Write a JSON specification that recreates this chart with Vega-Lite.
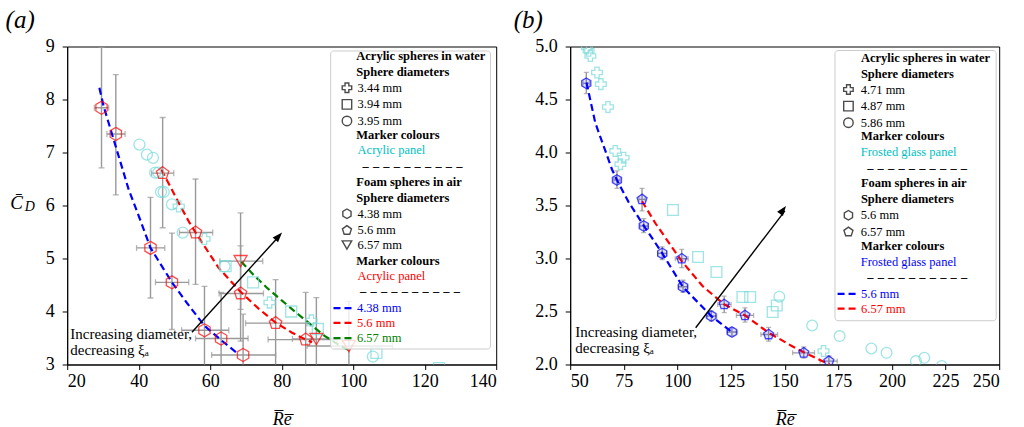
{
"$schema": "https://vega.github.io/schema/vega-lite/v6.json",
"padding": {"left": 4.2, "top": 7.5, "right": 5, "bottom": 0},
"bounds": "flush",
"spacing": 74,
"config": {
  "font": "Liberation Serif",
  "view": {"stroke": "#000", "strokeWidth": 1},
  "axis": {"grid": false, "domainColor": "#000", "tickColor": "#000", "labelColor": "#000", "titleColor": "#000", "labelFont": "Liberation Serif", "labelFontSize": 18, "titleFont": "Liberation Serif", "titleFontSize": 18, "titleFontStyle": "italic", "titleFontWeight": "normal", "tickSize": 5, "domainWidth": 1, "tickWidth": 1},
  "legend": {"orient": "none", "labelFont": "Liberation Serif", "labelFontSize": 12.5, "titleFont": "Liberation Serif", "titleFontSize": 12.5, "titleFontWeight": "bold", "titleColor": "#000", "labelColor": "#000", "rowPadding": 0.6, "titlePadding": 3, "titleLineHeight": 16, "padding": 0, "symbolSize": 90, "symbolStrokeWidth": 1.4, "labelOffset": 4.4, "titleLimit": 400, "labelLimit": 400}
},
"datasets": {
  "a_foam": [
    {"d": "4.38 mm", "panel": "Acrylic panel", "Re": 29.6, "Cd": 7.845, "Re_lo": 27.6, "Re_hi": 31.6, "Cd_lo": 6.71, "Cd_hi": 8.985},
    {"d": "4.38 mm", "panel": "Acrylic panel", "Re": 33.6, "Cd": 7.35, "Re_lo": 31.1, "Re_hi": 36.2, "Cd_lo": 6.2, "Cd_hi": 8.47},
    {"d": "4.38 mm", "panel": "Acrylic panel", "Re": 43.3, "Cd": 5.2, "Re_lo": 39.4, "Re_hi": 47.3, "Cd_lo": 4.255, "Cd_hi": 6.155},
    {"d": "4.38 mm", "panel": "Acrylic panel", "Re": 49.3, "Cd": 4.55, "Re_lo": 44.7, "Re_hi": 54.0, "Cd_lo": 3.66, "Cd_hi": 5.48},
    {"d": "4.38 mm", "panel": "Acrylic panel", "Re": 58.4, "Cd": 3.645, "Re_lo": 52.0, "Re_hi": 65.2, "Cd_lo": 2.8, "Cd_hi": 4.475},
    {"d": "4.38 mm", "panel": "Acrylic panel", "Re": 63.05, "Cd": 3.49, "Re_lo": 55.9, "Re_hi": 70.6, "Cd_lo": 2.6, "Cd_hi": 4.36},
    {"d": "4.38 mm", "panel": "Acrylic panel", "Re": 69.2, "Cd": 3.18, "Re_lo": 60.4, "Re_hi": 78.3, "Cd_lo": 2.4, "Cd_hi": 3.95},
    {"d": "5.6 mm", "panel": "Acrylic panel", "Re": 46.7, "Cd": 6.61, "Re_lo": 43.6, "Re_hi": 49.8, "Cd_lo": 5.58, "Cd_hi": 7.66},
    {"d": "5.6 mm", "panel": "Acrylic panel", "Re": 55.9, "Cd": 5.49, "Re_lo": 51.4, "Re_hi": 60.7, "Cd_lo": 4.51, "Cd_hi": 6.5},
    {"d": "5.6 mm", "panel": "Acrylic panel", "Re": 68.5, "Cd": 4.34, "Re_lo": 62.5, "Re_hi": 74.9, "Cd_lo": 3.44, "Cd_hi": 5.24},
    {"d": "5.6 mm", "panel": "Acrylic panel", "Re": 78.3, "Cd": 3.78, "Re_lo": 69.9, "Re_hi": 87.1, "Cd_lo": 2.9, "Cd_hi": 4.6},
    {"d": "5.6 mm", "panel": "Acrylic panel", "Re": 86.7, "Cd": 3.47, "Re_lo": 76.2, "Re_hi": 95.5, "Cd_lo": 2.6, "Cd_hi": 4.36},
    {"d": "6.57 mm", "panel": "Acrylic panel", "Re": 68.5, "Cd": 4.95, "Re_lo": 62.7, "Re_hi": 74.7, "Cd_lo": 4.04, "Cd_hi": 5.86},
    {"d": "6.57 mm", "panel": "Acrylic panel", "Re": 89.7, "Cd": 3.48, "Re_lo": 83.0, "Re_hi": 97.0, "Cd_lo": 2.7, "Cd_hi": 4.26},
    {"d": "6.57 mm", "panel": "Acrylic panel", "Re": 98.8, "Cd": 3.35, "Re_lo": 87.1, "Re_hi": 111.0, "Cd_lo": 2.5, "Cd_hi": 4.19}
  ],
  "a_acr": [
    {"d": "3.44 mm", "panel": "Acrylic panel", "Re": 51.2, "Cd": 5.985},
    {"d": "3.44 mm", "panel": "Acrylic panel", "Re": 58.4, "Cd": 5.37},
    {"d": "3.44 mm", "panel": "Acrylic panel", "Re": 76.6, "Cd": 4.17},
    {"d": "3.44 mm", "panel": "Acrylic panel", "Re": 88.3, "Cd": 3.83},
    {"d": "3.94 mm", "panel": "Acrylic panel", "Re": 64.3, "Cd": 4.855},
    {"d": "3.94 mm", "panel": "Acrylic panel", "Re": 72.0, "Cd": 4.55},
    {"d": "3.94 mm", "panel": "Acrylic panel", "Re": 82.65, "Cd": 4.0},
    {"d": "3.94 mm", "panel": "Acrylic panel", "Re": 90.1, "Cd": 3.67},
    {"d": "3.94 mm", "panel": "Acrylic panel", "Re": 106.5, "Cd": 3.22},
    {"d": "3.94 mm", "panel": "Acrylic panel", "Re": 124.0, "Cd": 2.93},
    {"d": "3.95 mm", "panel": "Acrylic panel", "Re": 40.2, "Cd": 7.15},
    {"d": "3.95 mm", "panel": "Acrylic panel", "Re": 42.3, "Cd": 6.96},
    {"d": "3.95 mm", "panel": "Acrylic panel", "Re": 44.0, "Cd": 6.9},
    {"d": "3.95 mm", "panel": "Acrylic panel", "Re": 44.6, "Cd": 6.62},
    {"d": "3.95 mm", "panel": "Acrylic panel", "Re": 45.5, "Cd": 6.62},
    {"d": "3.95 mm", "panel": "Acrylic panel", "Re": 46.25, "Cd": 6.255},
    {"d": "3.95 mm", "panel": "Acrylic panel", "Re": 47.0, "Cd": 6.255},
    {"d": "3.95 mm", "panel": "Acrylic panel", "Re": 49.3, "Cd": 6.02},
    {"d": "3.95 mm", "panel": "Acrylic panel", "Re": 52.3, "Cd": 5.49},
    {"d": "3.95 mm", "panel": "Acrylic panel", "Re": 64.0, "Cd": 4.85},
    {"d": "3.95 mm", "panel": "Acrylic panel", "Re": 105.5, "Cd": 3.15}
  ],
  "a_fit": [
    {"d": "4.38 mm", "Re": 29.0, "Cd": 8.22}, {"d": "4.38 mm", "Re": 30.2, "Cd": 7.87}, {"d": "4.38 mm", "Re": 34.4, "Cd": 6.93},
    {"d": "4.38 mm", "Re": 37.2, "Cd": 6.3}, {"d": "4.38 mm", "Re": 40.75, "Cd": 5.67}, {"d": "4.38 mm", "Re": 43.3, "Cd": 5.2},
    {"d": "4.38 mm", "Re": 49.3, "Cd": 4.55}, {"d": "4.38 mm", "Re": 53.5, "Cd": 4.16}, {"d": "4.38 mm", "Re": 58.4, "Cd": 3.73},
    {"d": "4.38 mm", "Re": 63.05, "Cd": 3.46}, {"d": "4.38 mm", "Re": 68.0, "Cd": 3.19},
    {"d": "5.6 mm", "Re": 46.35, "Cd": 6.68}, {"d": "5.6 mm", "Re": 51.2, "Cd": 6.05}, {"d": "5.6 mm", "Re": 54.0, "Cd": 5.7},
    {"d": "5.6 mm", "Re": 55.9, "Cd": 5.49}, {"d": "5.6 mm", "Re": 62.4, "Cd": 4.82}, {"d": "5.6 mm", "Re": 68.5, "Cd": 4.37},
    {"d": "5.6 mm", "Re": 73.6, "Cd": 4.05}, {"d": "5.6 mm", "Re": 78.3, "Cd": 3.79}, {"d": "5.6 mm", "Re": 82.9, "Cd": 3.6},
    {"d": "5.6 mm", "Re": 86.7, "Cd": 3.47}, {"d": "5.6 mm", "Re": 88.5, "Cd": 3.42},
    {"d": "6.57 mm", "Re": 68.7, "Cd": 4.94}, {"d": "6.57 mm", "Re": 72.0, "Cd": 4.7}, {"d": "6.57 mm", "Re": 76.0, "Cd": 4.44},
    {"d": "6.57 mm", "Re": 80.0, "Cd": 4.21}, {"d": "6.57 mm", "Re": 84.0, "Cd": 3.98}, {"d": "6.57 mm", "Re": 88.0, "Cd": 3.76},
    {"d": "6.57 mm", "Re": 92.0, "Cd": 3.54}, {"d": "6.57 mm", "Re": 96.0, "Cd": 3.37}, {"d": "6.57 mm", "Re": 99.5, "Cd": 3.24}
  ],
  "b_foam": [
    {"d": "5.6 mm", "panel": "Frosted glass panel", "Re": 57.5, "Cd": 4.653, "Re_lo": 56.0, "Re_hi": 59.0, "Cd_lo": 4.556, "Cd_hi": 4.755},
    {"d": "5.6 mm", "panel": "Frosted glass panel", "Re": 71.8, "Cd": 3.741, "Re_lo": 70.3, "Re_hi": 73.3, "Cd_lo": 3.662, "Cd_hi": 3.826},
    {"d": "5.6 mm", "panel": "Frosted glass panel", "Re": 84.3, "Cd": 3.307, "Re_lo": 82.5, "Re_hi": 86.3, "Cd_lo": 3.244, "Cd_hi": 3.376},
    {"d": "5.6 mm", "panel": "Frosted glass panel", "Re": 92.9, "Cd": 3.048, "Re_lo": 90.8, "Re_hi": 95.0, "Cd_lo": 2.99, "Cd_hi": 3.11},
    {"d": "5.6 mm", "panel": "Frosted glass panel", "Re": 102.6, "Cd": 2.734, "Re_lo": 100.3, "Re_hi": 104.9, "Cd_lo": 2.68, "Cd_hi": 2.795},
    {"d": "5.6 mm", "panel": "Frosted glass panel", "Re": 115.8, "Cd": 2.457, "Re_lo": 113.3, "Re_hi": 118.3, "Cd_lo": 2.41, "Cd_hi": 2.505},
    {"d": "5.6 mm", "panel": "Frosted glass panel", "Re": 125.4, "Cd": 2.306, "Re_lo": 123.0, "Re_hi": 128.0, "Cd_lo": 2.27, "Cd_hi": 2.345},
    {"d": "6.57 mm", "panel": "Frosted glass panel", "Re": 83.5, "Cd": 3.558, "Re_lo": 82.0, "Re_hi": 85.0, "Cd_lo": 3.449, "Cd_hi": 3.662},
    {"d": "6.57 mm", "panel": "Frosted glass panel", "Re": 102.0, "Cd": 2.998, "Re_lo": 99.0, "Re_hi": 105.0, "Cd_lo": 2.913, "Cd_hi": 3.086},
    {"d": "6.57 mm", "panel": "Frosted glass panel", "Re": 121.8, "Cd": 2.567, "Re_lo": 118.8, "Re_hi": 125.0, "Cd_lo": 2.49, "Cd_hi": 2.645},
    {"d": "6.57 mm", "panel": "Frosted glass panel", "Re": 131.5, "Cd": 2.463, "Re_lo": 127.5, "Re_hi": 135.5, "Cd_lo": 2.4, "Cd_hi": 2.535},
    {"d": "6.57 mm", "panel": "Frosted glass panel", "Re": 142.5, "Cd": 2.283, "Re_lo": 138.9, "Re_hi": 146.7, "Cd_lo": 2.22, "Cd_hi": 2.35},
    {"d": "6.57 mm", "panel": "Frosted glass panel", "Re": 158.9, "Cd": 2.11, "Re_lo": 153.7, "Re_hi": 163.9, "Cd_lo": 2.06, "Cd_hi": 2.165},
    {"d": "6.57 mm", "panel": "Frosted glass panel", "Re": 170.6, "Cd": 2.032, "Re_lo": 166.5, "Re_hi": 174.5, "Cd_lo": 1.98, "Cd_hi": 2.08}
  ],
  "b_acr": [
    {"d": "4.71 mm", "panel": "Frosted glass panel", "Re": 57.8, "Cd": 4.99},
    {"d": "4.71 mm", "panel": "Frosted glass panel", "Re": 58.6, "Cd": 4.96},
    {"d": "4.71 mm", "panel": "Frosted glass panel", "Re": 59.4, "Cd": 4.91},
    {"d": "4.71 mm", "panel": "Frosted glass panel", "Re": 62.5, "Cd": 4.755},
    {"d": "4.71 mm", "panel": "Frosted glass panel", "Re": 64.3, "Cd": 4.645},
    {"d": "4.71 mm", "panel": "Frosted glass panel", "Re": 67.6, "Cd": 4.43},
    {"d": "4.71 mm", "panel": "Frosted glass panel", "Re": 71.0, "Cd": 4.015},
    {"d": "4.71 mm", "panel": "Frosted glass panel", "Re": 74.9, "Cd": 3.95},
    {"d": "4.71 mm", "panel": "Frosted glass panel", "Re": 73.4, "Cd": 3.89},
    {"d": "4.71 mm", "panel": "Frosted glass panel", "Re": 168.1, "Cd": 2.127},
    {"d": "4.87 mm", "panel": "Frosted glass panel", "Re": 97.9, "Cd": 3.458},
    {"d": "4.87 mm", "panel": "Frosted glass panel", "Re": 109.6, "Cd": 3.014},
    {"d": "4.87 mm", "panel": "Frosted glass panel", "Re": 118.2, "Cd": 2.872},
    {"d": "4.87 mm", "panel": "Frosted glass panel", "Re": 130.3, "Cd": 2.637},
    {"d": "4.87 mm", "panel": "Frosted glass panel", "Re": 133.9, "Cd": 2.637},
    {"d": "4.87 mm", "panel": "Frosted glass panel", "Re": 144.4, "Cd": 2.495},
    {"d": "4.87 mm", "panel": "Frosted glass panel", "Re": 146.3, "Cd": 2.557},
    {"d": "5.86 mm", "panel": "Frosted glass panel", "Re": 147.5, "Cd": 2.64},
    {"d": "5.86 mm", "panel": "Frosted glass panel", "Re": 162.8, "Cd": 2.368},
    {"d": "5.86 mm", "panel": "Frosted glass panel", "Re": 175.6, "Cd": 2.268},
    {"d": "5.86 mm", "panel": "Frosted glass panel", "Re": 190.4, "Cd": 2.151},
    {"d": "5.86 mm", "panel": "Frosted glass panel", "Re": 197.5, "Cd": 2.11},
    {"d": "5.86 mm", "panel": "Frosted glass panel", "Re": 211.2, "Cd": 2.032},
    {"d": "5.86 mm", "panel": "Frosted glass panel", "Re": 215.1, "Cd": 2.063},
    {"d": "5.86 mm", "panel": "Frosted glass panel", "Re": 223.2, "Cd": 1.985}
  ],
  "b_fit": [
    {"d": "5.6 mm", "Re": 57.6, "Cd": 4.66}, {"d": "5.6 mm", "Re": 61.7, "Cd": 4.28}, {"d": "5.6 mm", "Re": 69.5, "Cd": 3.84},
    {"d": "5.6 mm", "Re": 71.8, "Cd": 3.74}, {"d": "5.6 mm", "Re": 77.3, "Cd": 3.53}, {"d": "5.6 mm", "Re": 84.3, "Cd": 3.31},
    {"d": "5.6 mm", "Re": 92.9, "Cd": 3.05}, {"d": "5.6 mm", "Re": 102.6, "Cd": 2.73}, {"d": "5.6 mm", "Re": 115.8, "Cd": 2.457},
    {"d": "5.6 mm", "Re": 125.4, "Cd": 2.306},
    {"d": "6.57 mm", "Re": 83.5, "Cd": 3.54}, {"d": "6.57 mm", "Re": 89.8, "Cd": 3.33}, {"d": "6.57 mm", "Re": 102.0, "Cd": 2.975},
    {"d": "6.57 mm", "Re": 111.7, "Cd": 2.74}, {"d": "6.57 mm", "Re": 121.8, "Cd": 2.567}, {"d": "6.57 mm", "Re": 131.5, "Cd": 2.463},
    {"d": "6.57 mm", "Re": 142.5, "Cd": 2.3}, {"d": "6.57 mm", "Re": 153.7, "Cd": 2.17}, {"d": "6.57 mm", "Re": 158.9, "Cd": 2.115},
    {"d": "6.57 mm", "Re": 170.9, "Cd": 2.0}
  ]
},
"hconcat": [
 {
  "width": 429, "height": 318,
  "title": {"text": "(a)", "anchor": "start", "frame": "group", "dx": -61.6, "dy": 31, "offset": 15.5, "baseline": "alphabetic", "fontSize": 25, "fontStyle": "italic", "fontWeight": "normal", "font": "Liberation Serif", "color": "#000"},
  "resolve": {"scale": {"color": "independent", "shape": "independent"}, "legend": {"color": "independent", "shape": "independent"}, "axis": {"y": "independent"}},
  "layer": [
   {"data": {"name": "a_foam"}, "mark": {"type": "rule", "color": "#999999", "strokeWidth": 1.4, "clip": true},
    "encoding": {
     "x": {"field": "Re", "type": "quantitative", "scale": {"domain": [20, 140], "nice": false, "zero": false}, "axis": {"title": "R\u0305e\u0305", "values": [20, 40, 60, 80, 100, 120, 140], "titleY": 60.5, "titleBaseline": "alphabetic", "labelPadding": 3}},
     "y": {"field": "Cd_lo", "type": "quantitative", "scale": {"domain": [3, 9], "nice": false, "zero": false}, "axis": {"orient": "left", "title": "C\u0304", "values": [3, 4, 5, 6, 7, 8, 9], "format": "d", "titleAngle": 0, "titleX": -51, "titleY": 155.8, "titleAlign": "center", "titleBaseline": "middle", "titleFontSize": 19, "labelPadding": 8}},
     "y2": {"field": "Cd_hi"}}},
   {"data": {"name": "a_foam"}, "mark": {"type": "rule", "color": "#999999", "strokeWidth": 1.4, "clip": true},
    "encoding": {"x": {"field": "Re_lo", "type": "quantitative"}, "x2": {"field": "Re_hi"}, "y": {"field": "Cd", "type": "quantitative", "axis": null}}},
   {"data": {"name": "a_foam"}, "transform": [{"fold": ["Cd_lo", "Cd_hi"], "as": ["k", "cap"]}],
    "mark": {"type": "tick", "orient": "horizontal", "size": 6, "thickness": 1.3, "color": "#999999", "clip": true},
    "encoding": {"x": {"field": "Re", "type": "quantitative"}, "y": {"field": "cap", "type": "quantitative", "axis": null}}},
   {"data": {"name": "a_foam"}, "transform": [{"fold": ["Re_lo", "Re_hi"], "as": ["k", "cap"]}],
    "mark": {"type": "tick", "orient": "vertical", "size": 6, "thickness": 1.3, "color": "#999999", "clip": true},
    "encoding": {"x": {"field": "cap", "type": "quantitative"}, "y": {"field": "Cd", "type": "quantitative", "axis": null}}},
   {"data": {"name": "a_fit"}, "transform": [{"filter": "datum.d === '4.38 mm'"}],
    "mark": {"type": "line", "strokeDash": [7, 4], "strokeWidth": 2.2, "clip": true},
    "encoding": {"x": {"field": "Re", "type": "quantitative"}, "y": {"field": "Cd", "type": "quantitative", "axis": null},
     "color": {"field": "d", "type": "nominal", "scale": {"range": ["#0000ff"]}, "legend": {"title": "\u200b\u00a0\u00a0\u00a0\u00a0\u00a0\u00a0\u00a0\u00a0\u00a0\u2013\u2004\u2013\u2004\u2013\u2004\u2013\u2004\u2013\u2004\u2013\u2004\u2013\u2004\u2013\u2004\u2013\u2004\u2013", "legendX": 264.8, "legendY": 238.75, "titlePadding": -1.1, "labelColor": "#0000ff", "symbolType": "stroke", "symbolSize": 400, "symbolStrokeWidth": 2.2, "symbolDash": [7, 4], "labelOffset": 2}}}},
   {"data": {"name": "a_fit"}, "transform": [{"filter": "datum.d === '5.6 mm'"}],
    "mark": {"type": "line", "strokeDash": [7, 4], "strokeWidth": 2.2, "clip": true},
    "encoding": {"x": {"field": "Re", "type": "quantitative"}, "y": {"field": "Cd", "type": "quantitative", "axis": null},
     "color": {"field": "d", "type": "nominal", "scale": {"range": ["#ff0000"]}, "legend": {"title": null, "legendX": 264.8, "legendY": 264.8, "labelColor": "#ff0000", "symbolType": "stroke", "symbolSize": 400, "symbolStrokeWidth": 2.2, "symbolDash": [7, 4], "labelOffset": 2}}}},
   {"data": {"name": "a_fit"}, "transform": [{"filter": "datum.d === '6.57 mm'"}],
    "mark": {"type": "line", "strokeDash": [7, 4], "strokeWidth": 2.2, "clip": true},
    "encoding": {"x": {"field": "Re", "type": "quantitative"}, "y": {"field": "Cd", "type": "quantitative", "axis": null},
     "color": {"field": "d", "type": "nominal", "scale": {"range": ["#008000"]}, "legend": {"title": null, "legendX": 264.8, "legendY": 280.2, "labelColor": "#008000", "symbolType": "stroke", "symbolSize": 400, "symbolStrokeWidth": 2.2, "symbolDash": [7, 4], "labelOffset": 2}}}},
   {"data": {"name": "a_acr"}, "mark": {"type": "point", "filled": false, "size": 121, "strokeWidth": 1.3, "clip": true},
    "encoding": {"x": {"field": "Re", "type": "quantitative"}, "y": {"field": "Cd", "type": "quantitative", "axis": null},
     "color": {"field": "panel", "type": "nominal", "scale": {"range": ["#78dada"]}, "legend": {"title": "\u200b\u00a0\u00a0\u00a0\u00a0\u00a0Marker colours", "legendX": 273.5, "legendY": 82, "labelColor": "#00bfbf", "symbolOpacity": 0}},
     "shape": {"field": "d", "type": "nominal", "scale": {"domain": ["3.44 mm", "3.94 mm", "3.95 mm"], "range": ["cross", "square", "circle"]}, "legend": {"title": ["\u200b\u00a0\u00a0\u00a0\u00a0\u00a0Acrylic spheres in water", "\u200b\u00a0\u00a0\u00a0\u00a0\u00a0Sphere diameters"], "legendX": 273.5, "legendY": 3.5, "symbolStrokeColor": "#000", "symbolFillColor": "transparent"}}}},
   {"data": {"name": "a_foam"}, "mark": {"type": "point", "filled": false, "size": 170, "strokeWidth": 1.3, "clip": true},
    "encoding": {"x": {"field": "Re", "type": "quantitative"}, "y": {"field": "Cd", "type": "quantitative", "axis": null},
     "color": {"field": "panel", "type": "nominal", "scale": {"range": ["#ff0000"]}, "legend": {"title": "\u200b\u00a0\u00a0\u00a0\u00a0\u00a0Marker colours", "legendX": 273.5, "legendY": 208.1, "labelColor": "#ff0000", "symbolOpacity": 0}},
     "shape": {"field": "d", "type": "nominal", "scale": {"domain": ["4.38 mm", "5.6 mm", "6.57 mm"], "range": ["M0,-1L0.866,-0.5L0.866,0.5L0,1L-0.866,0.5L-0.866,-0.5Z", "M0,-1L0.951,-0.309L0.588,0.809L-0.588,0.809L-0.951,-0.309Z", "triangle-down"]}, "legend": {"title": ["\u200b\u00a0\u00a0\u00a0\u00a0\u00a0\u00a0\u00a0\u2013\u2004\u2013\u2004\u2013\u2004\u2013\u2004\u2013\u2004\u2013\u2004\u2013\u2004\u2013\u2004\u2013\u2004\u2013", "\u200b\u00a0\u00a0\u00a0\u00a0\u00a0Foam spheres in air", "\u200b\u00a0\u00a0\u00a0\u00a0\u00a0Sphere diameters"], "legendX": 273.5, "legendY": 113.5, "symbolStrokeColor": "#000", "symbolFillColor": "transparent"}}}},
   {"data": {"values": [{}]}, "mark": {"type": "rule", "color": "#000", "strokeWidth": 1.4},
    "encoding": {"x": {"datum": 54.9, "type": "quantitative"}, "x2": {"datum": 79.5}, "y": {"datum": 3.61, "type": "quantitative", "axis": null}, "y2": {"datum": 5.44}}},
   {"data": {"values": [{}]}, "mark": {"type": "point", "shape": "M0,0L-0.36,1L0.36,1Z", "size": 400, "angle": 42, "filled": true, "color": "#000", "opacity": 1},
    "encoding": {"x": {"datum": 80.1, "type": "quantitative"}, "y": {"datum": 5.49, "type": "quantitative", "axis": null}}},
   {"data": {"values": [{}]}, "mark": {"type": "text", "align": "left", "baseline": "middle", "fontSize": 15, "lineHeight": 15.7, "font": "Liberation Serif", "color": "#000", "text": ["Increasing diameter,", "decreasing \u03be\u2090"]},
    "encoding": {"x": {"datum": 20.87, "type": "quantitative"}, "y": {"datum": 3.578, "type": "quantitative", "axis": null}}},
   {"data": {"values": [{}]}, "mark": {"type": "rect", "fill": "#ffffff", "fillOpacity": 0.8, "stroke": "#cccccc", "strokeWidth": 1, "cornerRadius": 3},
    "encoding": {"x": {"datum": 93.7, "type": "quantitative"}, "x2": {"datum": 138.4},
     "y": {"datum": 8.915, "type": "quantitative", "axis": {"orient": "left", "title": "D", "labels": false, "ticks": false, "domain": false, "titleAngle": 0, "titleX": -38, "titleY": 160, "titleAlign": "center", "titleBaseline": "middle", "titleFontSize": 14}},
     "y2": {"datum": 3.292}}}
  ]
 },
 {
  "width": 429, "height": 318,
  "title": {"text": "(b)", "anchor": "start", "frame": "group", "dx": -56.5, "dy": 31, "offset": 15.5, "baseline": "alphabetic", "fontSize": 25, "fontStyle": "italic", "fontWeight": "normal", "font": "Liberation Serif", "color": "#000"},
  "resolve": {"scale": {"color": "independent", "shape": "independent"}, "legend": {"color": "independent", "shape": "independent"}},
  "layer": [
   {"data": {"name": "b_foam"}, "mark": {"type": "rule", "color": "#999999", "strokeWidth": 1.4, "clip": true},
    "encoding": {
     "x": {"field": "Re", "type": "quantitative", "scale": {"domain": [50, 250], "nice": false, "zero": false}, "axis": {"title": "R\u0305e\u0305", "values": [50, 75, 100, 125, 150, 175, 200, 225, 250], "titleY": 60.5, "titleBaseline": "alphabetic", "labelPadding": 3}},
     "y": {"field": "Cd_lo", "type": "quantitative", "scale": {"domain": [2, 5], "nice": false, "zero": false}, "axis": {"title": null, "values": [2, 2.5, 3, 3.5, 4, 4.5, 5], "format": ".1f", "labelPadding": 8}},
     "y2": {"field": "Cd_hi"}}},
   {"data": {"name": "b_foam"}, "mark": {"type": "rule", "color": "#999999", "strokeWidth": 1.4, "clip": true},
    "encoding": {"x": {"field": "Re_lo", "type": "quantitative"}, "x2": {"field": "Re_hi"}, "y": {"field": "Cd", "type": "quantitative"}}},
   {"data": {"name": "b_foam"}, "transform": [{"fold": ["Cd_lo", "Cd_hi"], "as": ["k", "cap"]}],
    "mark": {"type": "tick", "orient": "horizontal", "size": 5, "thickness": 1.3, "color": "#999999", "clip": true},
    "encoding": {"x": {"field": "Re", "type": "quantitative"}, "y": {"field": "cap", "type": "quantitative"}}},
   {"data": {"name": "b_foam"}, "transform": [{"fold": ["Re_lo", "Re_hi"], "as": ["k", "cap"]}],
    "mark": {"type": "tick", "orient": "vertical", "size": 5, "thickness": 1.3, "color": "#999999", "clip": true},
    "encoding": {"x": {"field": "cap", "type": "quantitative"}, "y": {"field": "Cd", "type": "quantitative"}}},
   {"data": {"name": "b_fit"}, "transform": [{"filter": "datum.d === '5.6 mm'"}],
    "mark": {"type": "line", "strokeDash": [7, 4], "strokeWidth": 2.2, "clip": true},
    "encoding": {"x": {"field": "Re", "type": "quantitative"}, "y": {"field": "Cd", "type": "quantitative"},
     "color": {"field": "d", "type": "nominal", "scale": {"range": ["#0000ff"]}, "legend": {"title": "\u200b\u00a0\u00a0\u00a0\u00a0\u00a0\u00a0\u00a0\u00a0\u00a0\u00a0\u2013\u2004\u2013\u2004\u2013\u2004\u2013\u2004\u2013\u2004\u2013\u2004\u2013\u2004\u2013\u2004\u2013\u2004\u2013", "legendX": 265.9, "legendY": 224.55, "titlePadding": -1.1, "labelColor": "#0000ff", "symbolType": "stroke", "symbolSize": 400, "symbolStrokeWidth": 2.2, "symbolDash": [7, 4], "labelOffset": 2}}}},
   {"data": {"name": "b_fit"}, "transform": [{"filter": "datum.d === '6.57 mm'"}],
    "mark": {"type": "line", "strokeDash": [7, 4], "strokeWidth": 2.2, "clip": true},
    "encoding": {"x": {"field": "Re", "type": "quantitative"}, "y": {"field": "Cd", "type": "quantitative"},
     "color": {"field": "d", "type": "nominal", "scale": {"range": ["#ff0000"]}, "legend": {"title": null, "legendX": 265.9, "legendY": 250.6, "labelColor": "#ff0000", "symbolType": "stroke", "symbolSize": 400, "symbolStrokeWidth": 2.2, "symbolDash": [7, 4], "labelOffset": 2}}}},
   {"data": {"name": "b_acr"}, "mark": {"type": "point", "filled": false, "size": 115, "strokeWidth": 1.3, "clip": true},
    "encoding": {"x": {"field": "Re", "type": "quantitative"}, "y": {"field": "Cd", "type": "quantitative"},
     "color": {"field": "panel", "type": "nominal", "scale": {"range": ["#78dada"]}, "legend": {"title": "\u200b\u00a0\u00a0\u00a0\u00a0\u00a0\u00a0Marker colours", "legendX": 272, "legendY": 83.5, "labelColor": "#00bfbf", "symbolOpacity": 0, "labelOffset": 6}},
     "shape": {"field": "d", "type": "nominal", "scale": {"domain": ["4.71 mm", "4.87 mm", "5.86 mm"], "range": ["cross", "square", "circle"]}, "legend": {"title": ["\u200b\u00a0\u00a0\u00a0\u00a0\u00a0\u00a0Acrylic spheres in water", "\u200b\u00a0\u00a0\u00a0\u00a0\u00a0\u00a0Sphere diameters"], "legendX": 272, "legendY": 5.25, "symbolStrokeColor": "#000", "symbolFillColor": "transparent", "labelOffset": 6}}}},
   {"data": {"name": "b_foam"}, "mark": {"type": "point", "filled": true, "size": 110, "color": "#0000ff", "opacity": 0.12, "clip": true},
    "encoding": {"x": {"field": "Re", "type": "quantitative"}, "y": {"field": "Cd", "type": "quantitative"},
     "shape": {"field": "d", "type": "nominal", "scale": {"domain": ["5.6 mm", "6.57 mm"], "range": ["M0,-1L0.866,-0.5L0.866,0.5L0,1L-0.866,0.5L-0.866,-0.5Z", "M0,-1L0.951,-0.309L0.588,0.809L-0.588,0.809L-0.951,-0.309Z"]}, "legend": null}}},
   {"data": {"name": "b_foam"}, "mark": {"type": "point", "filled": false, "size": 110, "strokeWidth": 1.3, "clip": true},
    "encoding": {"x": {"field": "Re", "type": "quantitative"}, "y": {"field": "Cd", "type": "quantitative"},
     "color": {"field": "panel", "type": "nominal", "scale": {"range": ["#0000ff"]}, "legend": {"title": "\u200b\u00a0\u00a0\u00a0\u00a0\u00a0\u00a0Marker colours", "legendX": 272, "legendY": 193.9, "labelColor": "#0000ff", "symbolOpacity": 0, "labelOffset": 6}},
     "shape": {"field": "d", "type": "nominal", "scale": {"domain": ["5.6 mm", "6.57 mm"], "range": ["M0,-1L0.866,-0.5L0.866,0.5L0,1L-0.866,0.5L-0.866,-0.5Z", "M0,-1L0.951,-0.309L0.588,0.809L-0.588,0.809L-0.951,-0.309Z"]}, "legend": {"title": ["\u200b\u00a0\u00a0\u00a0\u00a0\u00a0\u00a0\u00a0\u00a0\u2013\u2004\u2013\u2004\u2013\u2004\u2013\u2004\u2013\u2004\u2013\u2004\u2013\u2004\u2013\u2004\u2013\u2004\u2013", "\u200b\u00a0\u00a0\u00a0\u00a0\u00a0\u00a0Foam spheres in air", "\u200b\u00a0\u00a0\u00a0\u00a0\u00a0\u00a0Sphere diameters"], "legendX": 272, "legendY": 115, "symbolStrokeColor": "#000", "symbolFillColor": "transparent", "labelOffset": 6}}}},
   {"data": {"values": [{}]}, "mark": {"type": "rule", "color": "#000", "strokeWidth": 1.4},
    "encoding": {"x": {"datum": 108.5, "type": "quantitative"}, "x2": {"datum": 150.1}, "y": {"datum": 2.347, "type": "quantitative"}, "y2": {"datum": 3.45}}},
   {"data": {"values": [{}]}, "mark": {"type": "point", "shape": "M0,0L-0.36,1L0.36,1Z", "size": 400, "angle": 36.5, "filled": true, "color": "#000", "opacity": 1},
    "encoding": {"x": {"datum": 150.6, "type": "quantitative"}, "y": {"datum": 3.496, "type": "quantitative"}}},
   {"data": {"values": [{}]}, "mark": {"type": "text", "align": "left", "baseline": "middle", "fontSize": 15, "lineHeight": 15.7, "font": "Liberation Serif", "color": "#000", "text": ["Increasing diameter,", "decreasing \u03be\u2090"]},
    "encoding": {"x": {"datum": 52.4, "type": "quantitative"}, "y": {"datum": 2.303, "type": "quantitative"}}},
   {"data": {"values": [{}]}, "mark": {"type": "rect", "fill": "#ffffff", "fillOpacity": 0.8, "stroke": "#cccccc", "strokeWidth": 1, "cornerRadius": 3},
    "encoding": {"x": {"datum": 173.45, "type": "quantitative"}, "x2": {"datum": 248.6}, "y": {"datum": 4.962, "type": "quantitative"}, "y2": {"datum": 2.413}}}
  ]
 }
]
}
